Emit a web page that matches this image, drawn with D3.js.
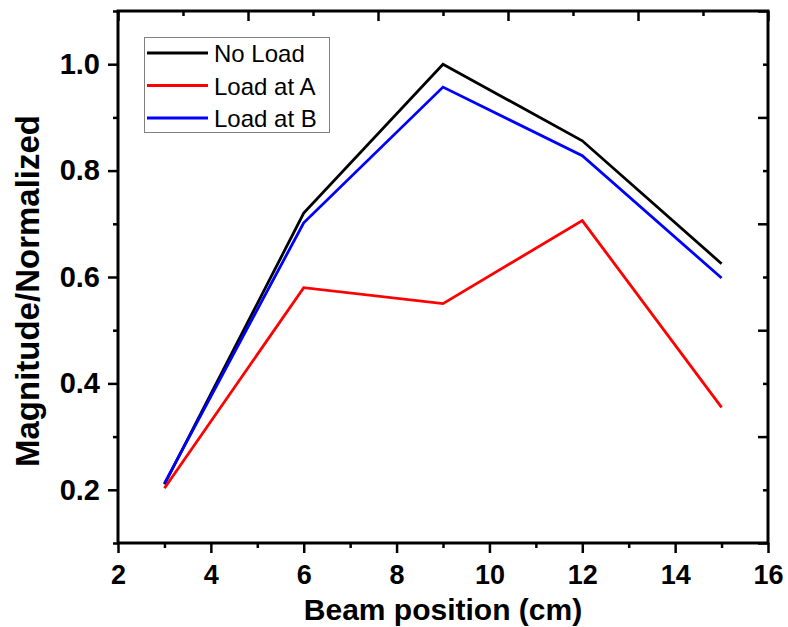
<!DOCTYPE html>
<html>
<head>
<meta charset="utf-8">
<script src="https://cdn.jsdelivr.net/npm/d3@7"></script>
<style>
  body { margin: 0; background: #fff; }
  svg { display: block; font-family: Arial, "Liberation Sans", sans-serif; }
</style>
</head>
<body>
<svg id="chart" width="788" height="627"></svg>
<script>
// ---- data ----
const positions = [3, 6, 9, 12, 15];
const noLoad = [0.21, 0.72, 1.0, 0.856, 0.625];
const loadA = [0.203, 0.58, 0.55, 0.706, 0.355];
const loadB = [0.212, 0.702, 0.957, 0.828, 0.598];
const seriesNames = ["No Load", "Load at A", "Load at B"];
const seriesColors = ["#000000", "#ff0000", "#0000ff"];
const xTicks = [2, 4, 6, 8, 10, 12, 14, 16];
const yTicks = [0.2, 0.4, 0.6, 0.8, 1.0];
const xTitle = "Beam position (cm)";
const yTitle = "Magnitude/Normalized";

const series = [noLoad, loadA, loadB];

const L = 118, R = 768, T = 11, B = 543;
const svg = d3.select("#chart");
const x = d3.scaleLinear().domain([2, 16]).range([L, R]);
const y = d3.scaleLinear().domain([0.1, 1.1]).range([B, T]);
// opposite (unlinked) axes
const xTop = d3.scaleLinear().domain([0, 10]).range([L, R]);
const yRight = d3.scaleLinear().domain([0, 10]).range([B, T]);

const axisStroke = 3;

// minor ticks
const xMinor = d3.range(3, 16, 2);
const yMinor = d3.range(0.1, 1.15, 0.2).map(v => +v.toFixed(2));

function styleAxis(g) {
  g.select(".domain").remove();
  g.selectAll(".tick line").attr("stroke", "#000").attr("stroke-width", 2.5);
}

// bottom major
svg.append("g").attr("transform", `translate(0,${B})`)
  .call(d3.axisBottom(x).tickValues(xTicks).tickSize(10).tickPadding(12).tickFormat(d3.format("d")))
  .call(styleAxis)
  .call(g => g.selectAll("text").attr("font-size", 27).attr("font-weight", "bold").attr("fill", "#000"));
// bottom minor
svg.append("g").attr("transform", `translate(0,${B})`)
  .call(d3.axisBottom(x).tickValues(xMinor).tickSize(5).tickFormat(""))
  .call(styleAxis);

// left major
svg.append("g").attr("transform", `translate(${L},0)`)
  .call(d3.axisLeft(y).tickValues(yTicks).tickSize(10).tickPadding(8).tickFormat(d3.format(".1f")))
  .call(styleAxis)
  .call(g => g.selectAll("text").attr("font-size", 29).attr("font-weight", "bold").attr("fill", "#000"));
// left minor
svg.append("g").attr("transform", `translate(${L},0)`)
  .call(d3.axisLeft(y).tickValues(yMinor).tickSize(5).tickFormat(""))
  .call(styleAxis);

// top axis (inward ticks)
svg.append("g").attr("transform", `translate(0,${T})`)
  .call(d3.axisBottom(xTop).tickValues([0, 2, 4, 6, 8, 10]).tickSize(10).tickFormat(""))
  .call(styleAxis);
svg.append("g").attr("transform", `translate(0,${T})`)
  .call(d3.axisBottom(xTop).tickValues([1, 3, 5, 7, 9]).tickSize(5).tickFormat(""))
  .call(styleAxis);
// right axis (inward ticks)
svg.append("g").attr("transform", `translate(${R},0)`)
  .call(d3.axisLeft(yRight).tickValues([0, 2, 4, 6, 8, 10]).tickSize(10).tickFormat(""))
  .call(styleAxis);
svg.append("g").attr("transform", `translate(${R},0)`)
  .call(d3.axisLeft(yRight).tickValues([1, 3, 5, 7, 9]).tickSize(5).tickFormat(""))
  .call(styleAxis);

// frame
svg.append("rect").attr("x", L).attr("y", T).attr("width", R - L).attr("height", B - T)
  .attr("fill", "none").attr("stroke", "#000").attr("stroke-width", axisStroke);

// lines
const line = d3.line().x((d, i) => x(positions[i])).y(d => y(d));
series.forEach((s, i) => {
  svg.append("path").datum(s).attr("d", line)
    .attr("fill", "none").attr("stroke", seriesColors[i]).attr("stroke-width", 2.8)
    .attr("stroke-linejoin", "miter");
});

// axis titles
svg.append("text").attr("x", 443).attr("y", 620)
  .attr("text-anchor", "middle").attr("font-size", 30).attr("font-weight", "bold").text(xTitle);
svg.append("text").attr("transform", `translate(39,291) rotate(-90)`)
  .attr("text-anchor", "middle").attr("font-size", 33).attr("font-weight", "bold").text(yTitle);

// legend
const lg = svg.append("g");
lg.append("rect").attr("x", 144.5).attr("y", 37.5).attr("width", 185).attr("height", 95)
  .attr("fill", "#fff").attr("stroke", "#808080").attr("stroke-width", 1);
seriesNames.forEach((n, i) => {
  const yy = 53 + i * 32.5;
  lg.append("line").attr("x1", 147).attr("x2", 208).attr("y1", yy).attr("y2", yy)
    .attr("stroke", seriesColors[i]).attr("stroke-width", 2.8);
  lg.append("text").attr("x", 214).attr("y", yy + 9).attr("font-size", 24).text(n);
});
</script>
</body>
</html>
